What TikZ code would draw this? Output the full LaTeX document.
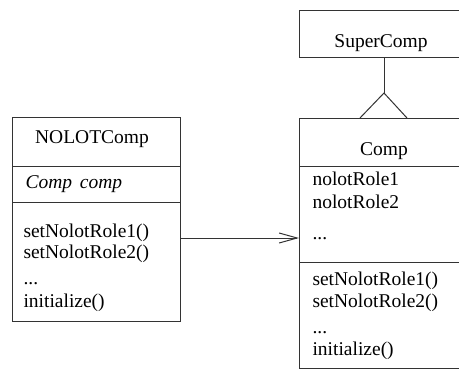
\documentclass[tikz,border=0pt]{standalone}
\usepackage{fontspec}
\setmainfont{Liberation Serif}
\usetikzlibrary{arrows.meta}
\begin{document}
\begin{tikzpicture}[x=1pt,y=-1pt,
  font=\fontsize{19.5}{22.5}\selectfont,
  line width=1pt,
  umlbox/.style={draw=black!80, inner sep=0pt, outer sep=0pt},
  sep/.style={draw=black!80},
  item/.style={anchor=base west, inner sep=0pt},
  heading/.style={anchor=base, inner sep=0pt},
  link/.style={draw=black!80}]
\useasboundingbox (0,0) rectangle (459,370);
\clip (0,0) rectangle (459,370);

% class boxes
\node[umlbox, minimum width=168pt, minimum height=204pt] (nolot) at (96,219) {};
\node[umlbox, minimum width=170pt, minimum height=47pt] (super) at (384,33.5) {};
\node[umlbox, minimum width=170pt, minimum height=250pt] (comp) at (384,243) {};

% compartment separators
\coordinate (n1) at (0,166);
\coordinate (n2) at (0,202);
\coordinate (c1) at (0,166);
\coordinate (c2) at (0,262);
\draw[sep] (nolot.west |- n1) -- (nolot.east |- n1);
\draw[sep] (nolot.west |- n2) -- (nolot.east |- n2);
\draw[sep] (comp.west |- c1) -- (comp.east |- c1);
\draw[sep] (comp.west |- c2) -- (comp.east |- c2);

% NOLOTComp contents
\node[heading] (tN) at (92,143) {NOLOTComp};
\node[item] (nA) at (25,188) {\itshape Comp\hspace{3pt} comp};
\node[item] (nM1) at (23,237) {setNolotRole1()};
\node[item] (nM2) at (23,258) {setNolotRole2()};
\node[item] (nM3) at (23,284) {...};
\node[item] (nM4) at (23,307) {initialize()};

% SuperComp and Comp contents
\node[heading] (tS) at (381,47) {SuperComp};
\node[heading] (tC) at (384,155) {Comp};
\node[item] (cA1) at (312,185) {nolotRole1};
\node[item] (cA2) at (312,208) {nolotRole2};
\node[item] (cA3) at (312,239) {...};
\node[item] (cM1) at (312,285) {setNolotRole1()};
\node[item] (cM2) at (312,307) {setNolotRole2()};
\node[item] (cM3) at (312,333) {...};
\node[item] (cM4) at (312,355) {initialize()};

% association NOLOTComp -> Comp
\coordinate (ay) at (0,238);
\draw[link, -{Straight Barb[length=18pt,width=10pt]}] (nolot.east |- ay) -- (comp.west |- ay);

% generalization Comp -> SuperComp
\coordinate (apex) at (384,93);
\draw[link] (super.south) -- (apex);
\draw[link] ([xshift=-24pt]comp.north) -- (apex) -- ([xshift=23pt]comp.north);
\end{tikzpicture}
\end{document}
